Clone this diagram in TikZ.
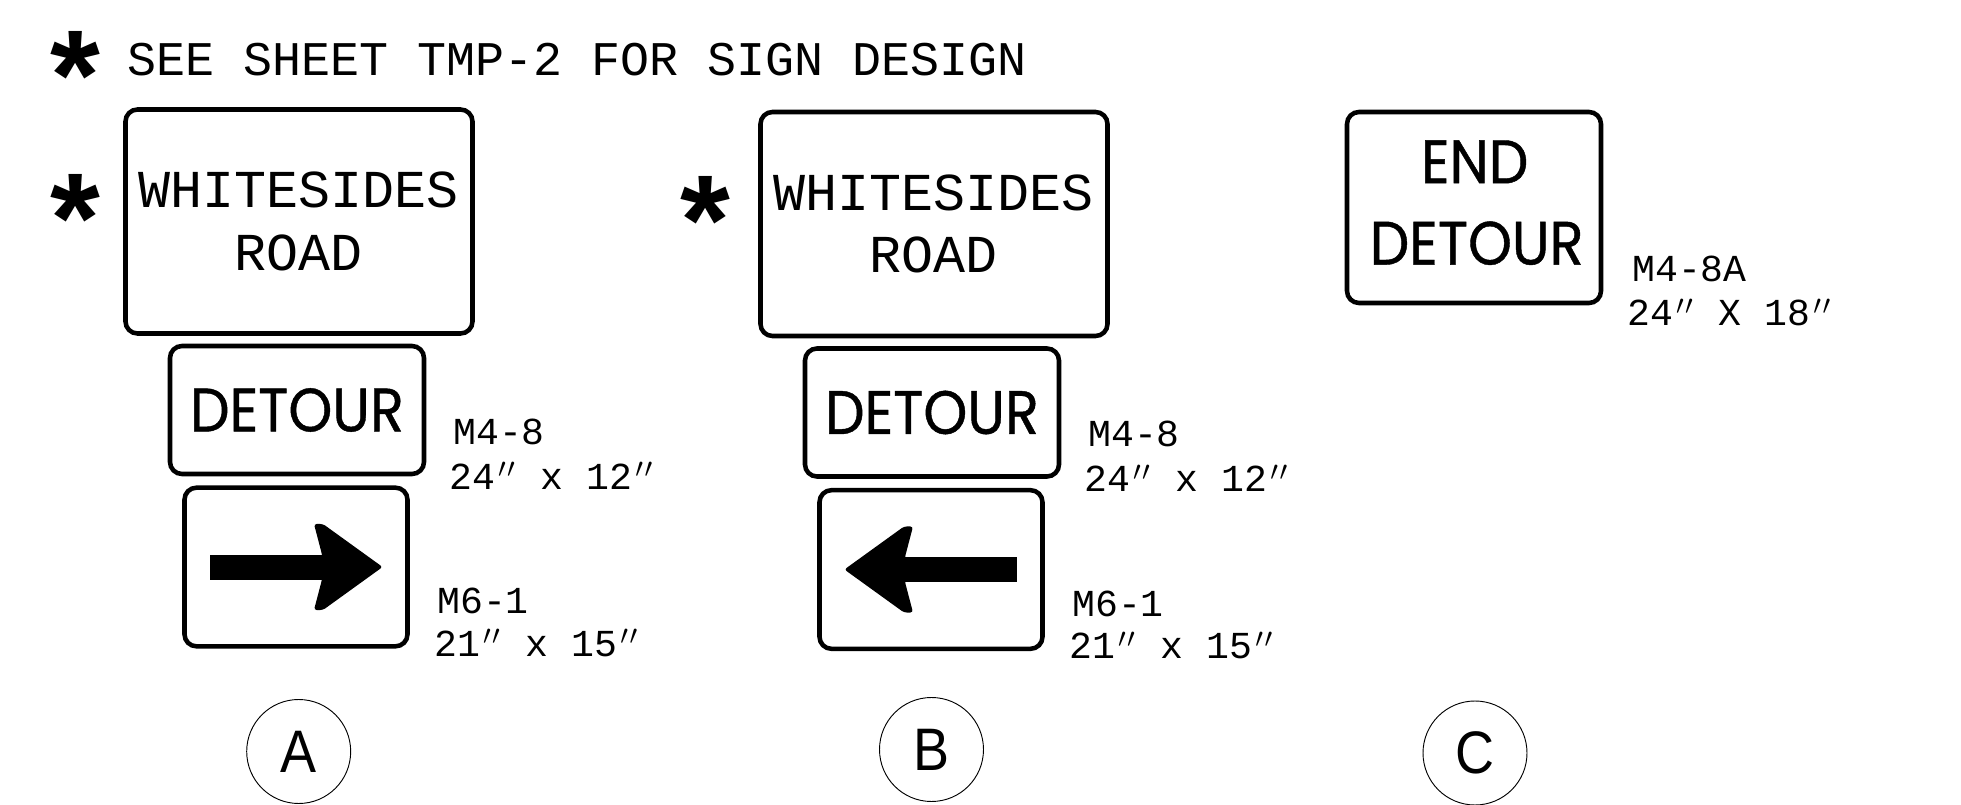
\documentclass[tikz,border=0pt]{standalone}
\usepackage{fontspec}
\setmainfont{Liberation Sans}
\newfontfamily\monof{Liberation Mono}
\newfontfamily\signf[FakeStretch=0.91,FakeBold=0.7]{Poppins}
\newfontfamily\starf{Liberation Sans}
\newfontfamily\ballf[FakeStretch=0.9]{Liberation Sans}
\newcommand\dpr{\makebox[.6em][c]{\raisebox{.3em}{$\scriptstyle\prime\mkern1mu\prime$}}}
\newcommand\dropline[1]{\rule[-#1]{0pt}{0pt}}
\tikzset{
  signbox/.style={draw=black,line width=3.4pt,rounded corners=9pt,inner sep=0pt,outer sep=0pt,align=center},
  wordsign/.style={signbox,font=\monof\fontsize{40}{47}\selectfont},
  detoursign/.style={signbox,font=\signf\fontsize{46}{61}\selectfont},
  arrowsign/.style={signbox},
  headline/.style={anchor=base west,inner sep=0pt,font=\monof\fontsize{36.25}{36}\selectfont},
  codetext/.style={anchor=base west,inner sep=0pt,font=\monof\fontsize{28.6}{29}\selectfont},
  startext/.style={inner sep=0pt,anchor=center,font=\starf\bfseries\fontsize{96}{96}\selectfont},
  caseball/.style={draw=black,line width=0.7pt,circle,inner sep=0pt,outer sep=0pt,minimum size=78pt,font=\ballf\fontsize{45}{45}\selectfont},
  arrowfill/.style={fill=black,draw=none,rounded corners=2pt}
}
\begin{document}
\begin{tikzpicture}[x=0.75pt,y=-0.75pt]
\useasboundingbox (0,0) rectangle (1961,805);
% header
\node[startext] (starA) at (75,75) {*};
\node[headline] (head) at (127,75.5) {SEE SHEET TMP-2 FOR SIGN DESIGN};
% column A
\node[startext] (starB) at (75,218) {*};
\node[wordsign,minimum width=260.25pt,minimum height=168pt] (roadA) at (299,221.5) {WHITESIDES\\ROAD};
\node[detoursign,minimum width=190.5pt,minimum height=96pt] (detA) at (297,410) {DETOUR};
\node[arrowsign,minimum width=167.25pt,minimum height=119pt] (arrA) at (296,567) {};
\fill[arrowfill,sharp corners] (210,554.5) -- (322,554.5) -- (322,579.5) -- (210,579.5) -- cycle;
\fill[arrowfill] (322,579.5) -- (314,610) -- (323,610) -- (382.6,567) -- (323,524) -- (314,524) -- (322,554.5) -- cycle;
\node[codetext] (mA1) at (453,444.5) {M4-8};
\node[codetext] (dA1) at (449,489) {24\dpr{} x 12\dpr};
\node[codetext] (mA2) at (437,613.5) {M6-1};
\node[codetext] (dA2) at (434,656) {21\dpr{} x 15\dpr};
\node[caseball] (circA) at (298.7,751.5) {A};
% column B
\node[startext] (starC) at (705,220) {*};
\node[wordsign,minimum width=260.25pt,minimum height=168pt] (roadB) at (934,224) {WHITESIDES\\ROAD};
\node[detoursign,minimum width=190.5pt,minimum height=96pt] (detB) at (932,412.5) {DETOUR};
\node[arrowsign,minimum width=167.25pt,minimum height=119pt] (arrB) at (931,569.5) {};
\fill[arrowfill,sharp corners] (1017,557) -- (905,557) -- (905,582) -- (1017,582) -- cycle;
\fill[arrowfill] (905,582) -- (913,612.5) -- (904,612.5) -- (844.4,569.5) -- (904,526.5) -- (913,526.5) -- (905,557) -- cycle;
\node[codetext] (mB1) at (1088,447) {M4-8};
\node[codetext] (dB1) at (1084,491.5) {24\dpr{} x 12\dpr};
\node[codetext] (mB2) at (1072,616) {M6-1};
\node[codetext] (dB2) at (1069,658.5) {21\dpr{} x 15\dpr};
\node[caseball] (circB) at (931.5,749.5) {B};
% column C
\node[detoursign,minimum width=190.5pt,minimum height=143.25pt] (endC) at (1474,207.5) {\hspace*{1pt}END\\\hspace*{4pt}DETOUR\dropline{7.5pt}};
\node[codetext] (mC) at (1632,282) {M4-8A};
\node[codetext] (dC) at (1627,325.7) {24\dpr{} X 18\dpr};
\node[caseball] (circC) at (1475,753) {C};
\end{tikzpicture}
\end{document}
